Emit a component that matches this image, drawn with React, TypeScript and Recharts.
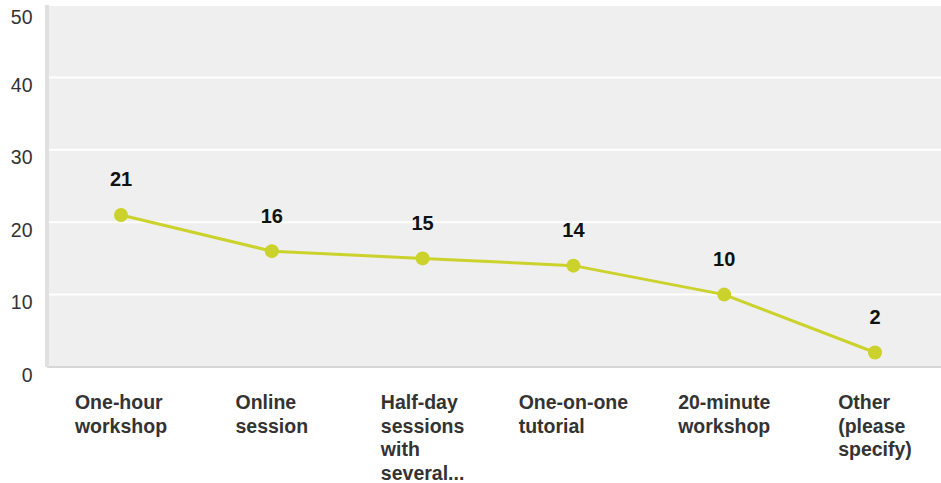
import { CartesianGrid, LabelList, Line, LineChart, XAxis, YAxis } from "recharts";

const categories = [
  "One-hour workshop",
  "Online session",
  "Half-day sessions with several...",
  "One-on-one tutorial",
  "20-minute workshop",
  "Other (please specify)",
];
const responses = [21, 16, 15, 14, 10, 2];
const yTicks = [0, 10, 20, 30, 40, 50];

const FONT = "'Liberation Sans', Arial, Helvetica, sans-serif";
const LINE_COLOR = "#cbd22b";

const data = categories.map((name, i) => ({ name, value: responses[i] }));

let ctx: CanvasRenderingContext2D | null = null;
function measure(s: string): number {
  if (!ctx) {
    ctx = document.createElement("canvas").getContext("2d");
    if (ctx) ctx.font = `bold 19.5px ${FONT}`;
  }
  return ctx ? ctx.measureText(s).width : s.length * 10;
}

// greedy wrap, left aligned lines inside a centred block
function wrap(label: string, maxW: number): string[] {
  const words = label.split(" ");
  const lines: string[] = [];
  let cur = "";
  for (const w of words) {
    const next = cur ? cur + " " + w : w;
    if (cur && measure(next) > maxW) {
      lines.push(cur);
      cur = w;
    } else {
      cur = next;
    }
  }
  if (cur) lines.push(cur);
  return lines;
}

function CategoryTick(props: any) {
  const { x, y, payload } = props;
  const lines = wrap(String(payload.value), 122);
  const w = Math.max(...lines.map(measure));
  const left = x - w / 2;
  return (
    <text x={left} y={y} fill="#333" fontFamily={FONT} fontSize={19.5} fontWeight="bold" textAnchor="start">
      {lines.map((l, i) => (
        <tspan key={i} x={left} dy={i === 0 ? 42 : 23.5}>
          {l}
        </tspan>
      ))}
    </text>
  );
}

function ValueTick(props: any) {
  const { x, y, payload } = props;
  return (
    <text x={x - 14.5} y={y + 14.5} fill="#333" fontFamily={FONT} fontSize={19.5} textAnchor="end">
      {payload.value}
    </text>
  );
}

function PointLabel(props: any) {
  const { x, y, value } = props;
  return (
    <text x={x} y={y - 28.5} fill="#111" fontFamily={FONT} fontSize={20} fontWeight="bold" textAnchor="middle">
      {value}
    </text>
  );
}

export default function App() {
  return (
    <div style={{ position: "absolute", left: 0, top: 0 }}>
      <LineChart width={941} height={483} data={data} margin={{ top: 5, right: 0, bottom: 0, left: 0 }}>
        <CartesianGrid vertical={false} fill="#efefef" stroke="#ffffff" strokeWidth={2} />
        <XAxis
          dataKey="name"
          interval={0}
          height={116}
          padding={{ left: 74, right: 66 }}
          tickLine={false}
          tickSize={0}
          tickMargin={0}
          axisLine={{ stroke: "#d6d6d6", strokeWidth: 2 }}
          tick={<CategoryTick />}
        />
        <YAxis
          width={47}
          domain={[0, 50]}
          ticks={yTicks}
          tickLine={false}
          tickSize={0}
          tickMargin={0}
          axisLine={{ stroke: "#e0e0e0", strokeWidth: 4 }}
          tick={<ValueTick />}
        />
        <Line
          dataKey="value"
          stroke={LINE_COLOR}
          strokeWidth={3}
          dot={{ r: 7, fill: LINE_COLOR, stroke: "none" }}
          activeDot={false}
          isAnimationActive={false}
        >
          <LabelList dataKey="value" content={<PointLabel />} />
        </Line>
      </LineChart>
    </div>
  );
}
